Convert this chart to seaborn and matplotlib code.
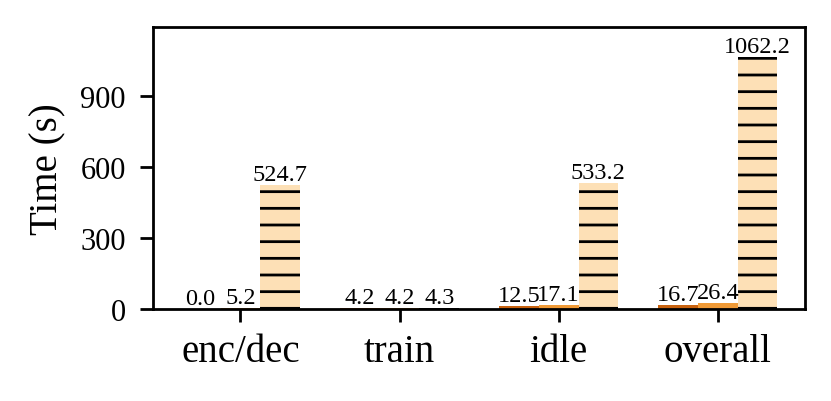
import pandas as pd
import seaborn as sns
import matplotlib.pyplot as plt

# значения по фазам
phases = ['enc/dec', 'train', 'idle', 'overall']
series = ['s1', 's2', 's3']
s1 = [0.0, 4.2, 12.5, 16.7]
s2 = [5.2, 4.2, 17.1, 26.4]
s3 = [524.7, 4.3, 533.2, 1062.2]
colors = ['#c8620f', '#f09a36', '#fde0b6']

df = pd.DataFrame({
    'phase': phases * 3,
    'series': [s for s in series for _ in phases],
    'time': s1 + s2 + s3,
})

sns.set_style('ticks')
plt.rcParams['font.family'] = ['Liberation Serif', 'DejaVu Serif']
plt.rcParams['hatch.linewidth'] = 2.0
plt.rcParams['text.color'] = 'black'
plt.rcParams['axes.labelcolor'] = 'black'
plt.rcParams['xtick.color'] = 'black'
plt.rcParams['ytick.color'] = 'black'

fig, ax = plt.subplots(figsize=(8.31, 4.02), dpi=100)
fig.subplots_adjust(left=0.184, right=0.969, top=0.930, bottom=0.229)

sns.barplot(data=df, x='phase', y='time', hue='series', palette=colors,
            width=0.75, saturation=1, legend=False, ax=ax, linewidth=0)

# штриховка для третьего ряда
for bar in ax.containers[2]:
    bar.set_hatch('-')
    bar.set_edgecolor('black')
    bar.set_linewidth(0)

for c in ax.containers:
    ax.bar_label(c, fmt='%.1f', fontsize=17.5, padding=0)

ax.set_xlim(-0.55, 3.55)
ax.set_ylim(0, 1190)
ax.set_yticks([0, 300, 600, 900])
ax.set_xlabel('')
ax.set_ylabel('Time (s)', fontsize=28, labelpad=10)
ax.tick_params(axis='x', labelsize=28, length=9.5, width=2, pad=8)
ax.tick_params(axis='y', labelsize=22, length=9.5, width=2, pad=10)
for sp in ax.spines.values():
    sp.set_linewidth(2)
    sp.set_color('black')

plt.savefig('out.png', dpi=100)
